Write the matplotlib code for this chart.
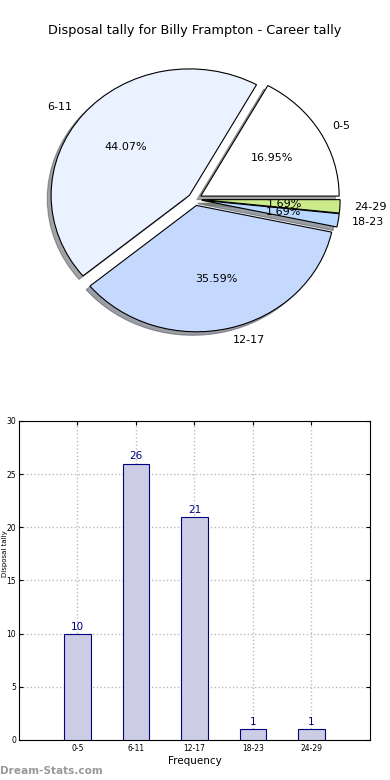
import matplotlib
matplotlib.use("Agg")
import matplotlib.pyplot as plt

labels = ['0-5', '6-11', '12-17', '18-23', '24-29']
counts = [10, 26, 21, 1, 1]
pie_colors = ['#ffffff', '#eaf1ff', '#c5d9ff', '#b8d8ff', '#cceb8a']

fig = plt.figure(figsize=(3.9, 7.8), dpi=100)

# pie chart
ax1 = fig.add_axes([0.056, 0.542, 0.887, 0.405])
wedges, texts, autotexts = ax1.pie(counts, labels=labels, colors=pie_colors,
                                   explode=[0.05] * len(counts), autopct='%.2f%%',
                                   shadow=True, startangle=0,
                                   wedgeprops={'edgecolor': 'black', 'linewidth': 0.8},
                                   textprops={'fontsize': 8})
ax1.set_aspect('auto')
ax1.set_xlim(-1.25, 1.25)
ax1.set_ylim(-1.25, 1.25)
fig.text(0.5, 0.961, 'Disposal tally for Billy Frampton - Career tally',
         ha='center', va='center', fontsize=9.3)

# bar chart
ax2 = fig.add_axes([0.0487, 0.0513, 0.9, 0.409])
x = list(range(len(labels)))
ax2.bar(x, counts, width=0.45, color='#ccccE4', edgecolor='#000080', linewidth=0.8, zorder=3)
for xi, c in zip(x, counts):
    ax2.text(xi, c + 0.2, str(c), ha='center', va='bottom', fontsize=7.5, color='#000080', zorder=4)
ax2.set_xlim(-1, 5)
ax2.set_ylim(0, 30)
ax2.set_xticks(x)
ax2.set_xticklabels(labels)
ax2.set_yticks(range(0, 31, 5))
ax2.tick_params(labelsize=5.5, direction='in', top=True, right=True, length=3, pad=3)
ax2.tick_params(axis='y', pad=2)
ax2.grid(True, linestyle=':', color='#bbbbbb', linewidth=1, zorder=0)
ax2.set_xlabel('Frequency', fontsize=7.5, labelpad=2)
ax2.set_ylabel('Disposal tally', fontsize=5)
ax2.yaxis.set_label_coords(-0.03, 0.583)

fig.text(0.0, 0.012, 'Dream-Stats.com', ha='left', va='center', fontsize=7.6,
         color='#999999', fontweight='bold')

fig.savefig('out.png', dpi=100)
